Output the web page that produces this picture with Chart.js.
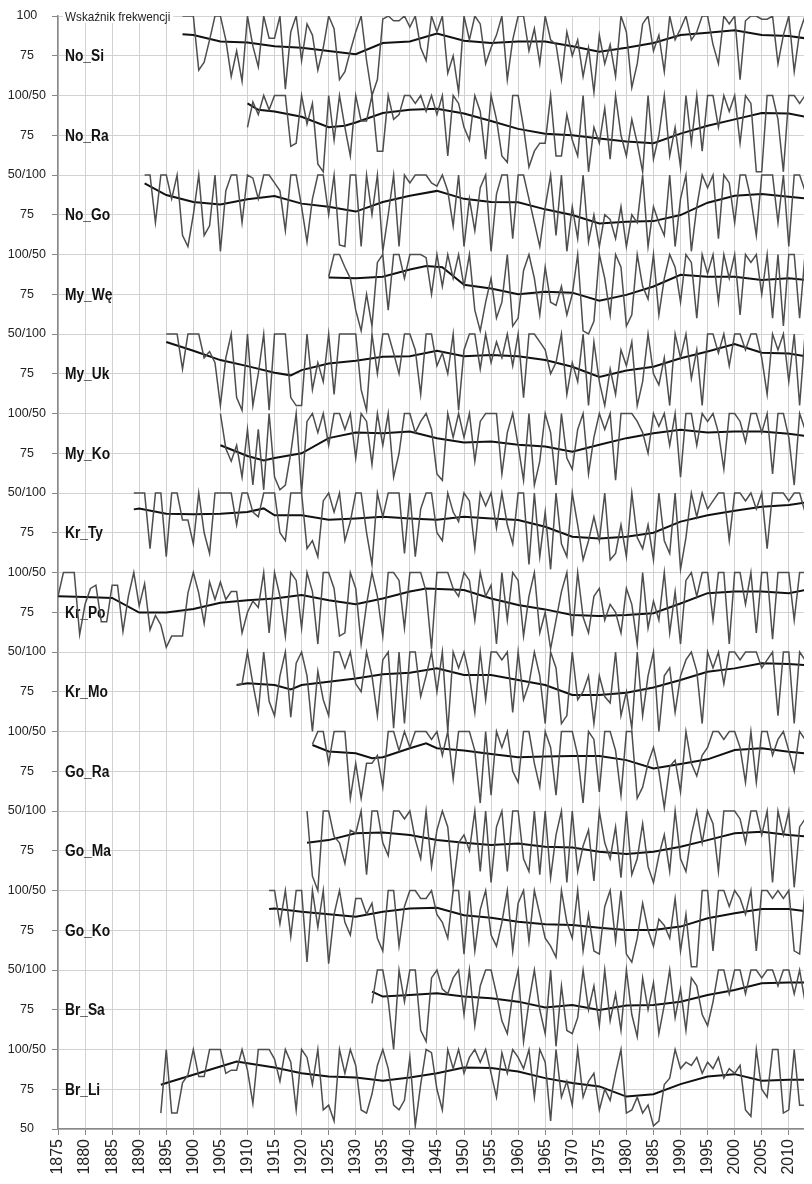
<!DOCTYPE html>
<html>
<head>
<meta charset="utf-8">
<script src="https://cdn.jsdelivr.net/npm/chart.js@4.4.0/dist/chart.umd.min.js"></script>
<style>
  html, body { margin: 0; padding: 0; background: #fff; overflow: hidden; }
</style>
</head>
<body>
<canvas id="chart" width="812" height="1184"></canvas>
<script>
// Panel names, top to bottom, and the first year of each series
const panelNames = ['No_Si', 'No_Ra', 'No_Go', 'My_Wę', 'My_Uk', 'My_Ko', 'Kr_Ty', 'Kr_Po', 'Kr_Mo', 'Go_Ra', 'Go_Ma', 'Go_Ko', 'Br_Sa', 'Br_Li'];
const startYears = [1898, 1910, 1891, 1925, 1895, 1905, 1889, 1875, 1908, 1922, 1921, 1914, 1933, 1894];
const titleText = 'Wskaźnik frekwencji';

// Yearly values (one per year from the start year)
const rawNoSi = [100,100,100,66,71,85,100,100,85,62,78,59,
  100,81,68,100,86,86,100,54,90,100,
  72,95,88,66,80,100,92,60,65,78,
  90,100,72,50,60,98,100,97,97,100,
  93,100,80,72,100,90,100,64,75,52,
  100,85,100,95,70,80,88,100,60,85,
  100,100,78,92,70,100,85,82,60,90,
  75,85,62,80,52,88,70,82,62,100,
  90,55,70,95,100,78,88,65,100,85,
  92,100,85,90,100,100,82,70,100,95,
  100,60,97,100,100,98,98,100,70,88,
  100,65,90,100,88];
const rawNoRa = [80,96,88,100,91,100,100,100,68,70,
  100,82,95,57,52,100,72,100,80,62,
  100,84,84,100,65,65,100,85,88,100,
  100,95,100,90,100,88,100,62,100,95,
  80,72,100,90,60,100,85,62,58,100,
  100,80,55,65,70,70,100,62,62,88,
  72,62,100,52,80,70,92,60,100,75,
  62,85,70,52,100,60,75,100,62,80,
  55,100,70,100,65,100,100,80,100,90,
  100,70,100,95,52,52,100,100,85,52,
  100,100,95,100,90];
const rawNoGo = [100,100,70,100,100,85,100,62,55,
  75,100,62,68,100,52,90,100,100,70,
  100,98,85,100,100,95,90,65,100,100,
  80,58,85,100,100,75,100,56,55,100,
  100,55,100,75,100,52,75,100,55,100,
  95,100,100,100,95,93,100,90,68,100,
  55,85,65,92,100,52,88,100,100,60,
  100,100,85,70,55,80,100,62,100,52,
  80,60,100,58,75,55,75,72,60,80,
  55,75,70,100,55,80,70,62,100,55,
  85,100,52,80,100,92,100,60,100,95,
  70,100,100,85,62,100,100,100,70,100,
  55,100,100,90,85];
const rawMyWe = [86,100,100,92,85,
  65,52,75,55,95,100,65,100,100,85,
  100,100,100,98,75,100,80,100,85,100,
  80,100,65,52,70,85,60,70,100,55,
  60,90,100,85,62,92,70,68,80,62,
  75,100,52,50,58,100,85,62,100,92,
  55,62,100,80,72,100,62,85,100,92,
  70,100,95,60,100,88,100,70,100,85,
  100,62,100,95,100,75,100,60,100,55,
  100,100,60,100,85];
const rawMyUk = [100,100,100,78,100,
  100,100,85,89,82,55,85,100,60,52,
  100,55,75,100,52,100,100,100,60,55,
  55,100,65,82,70,100,62,100,100,100,
  100,65,52,100,75,100,100,88,75,100,
  100,90,62,100,100,80,88,75,100,52,
  90,100,100,78,100,82,95,85,100,80,
  100,60,100,100,95,90,75,82,100,62,
  82,70,100,55,95,70,55,78,62,90,
  80,95,55,70,100,75,68,85,55,100,
  85,100,72,90,55,100,100,88,100,80,
  100,100,90,100,100,85,62,100,90,100,
  70,100,55,100,90];
const rawMyKo = [100,78,70,80,60,
  90,55,90,52,100,60,52,55,75,100,
  50,95,100,88,100,80,100,100,90,100,
  72,100,95,68,100,80,100,60,75,100,
  100,88,95,100,90,62,58,100,85,100,
  85,100,70,95,100,100,100,62,88,100,
  80,58,100,55,70,100,88,55,100,72,
  65,90,100,62,85,100,90,100,58,100,
  100,100,95,88,75,100,92,100,80,100,
  60,100,100,80,100,95,100,88,65,100,
  100,95,82,100,100,88,100,62,100,100,
  85,55,100,90,95];
const rawKrTy = [100,100,100,65,100,100,60,100,100,83,83,
  68,100,75,62,100,100,100,100,80,100,
  100,88,85,100,100,100,75,70,100,100,
  100,65,70,60,95,100,88,100,70,82,
  100,100,75,55,100,85,100,100,100,62,
  100,60,90,100,100,75,70,100,88,82,
  100,95,65,100,92,100,78,100,80,68,
  100,100,55,100,60,88,52,100,68,60,
  100,80,58,70,85,70,100,58,62,80,
  60,100,72,65,80,58,100,70,62,100,
  52,72,100,85,100,90,95,100,100,70,
  100,100,95,100,90,100,65,100,100,100,
  95,100,100,88,100];
const rawKrPo = [85,100,100,100,61,
  80,90,92,69,69,92,92,63,85,100,
  79,93,64,73,67,53,60,60,60,87,
  100,87,68,94,83,94,83,88,88,62,
  75,82,78,100,62,100,85,60,100,95,
  65,100,88,55,100,100,90,60,62,100,
  90,55,80,100,85,60,100,100,95,65,
  100,100,100,88,52,100,100,100,90,85,
  100,95,70,100,85,92,55,100,70,100,
  95,60,85,100,62,75,52,70,88,100,
  60,100,72,62,85,90,70,80,75,62,
  90,80,55,100,65,82,70,100,62,88,
  55,95,100,85,100,100,70,100,100,55,
  100,100,80,100,62,100,100,58,100,100,
  100,70,100,100,95];
const rawKrMo = [79,80,
  100,80,62,100,69,60,85,100,59,93,
  100,85,50,88,70,60,100,100,90,100,
  80,75,100,85,60,95,100,52,100,55,
  100,100,72,85,100,75,100,50,100,90,
  100,85,62,100,70,100,100,95,100,62,
  100,70,80,100,85,55,100,90,55,60,
  100,70,75,85,55,85,72,68,100,60,
  75,52,100,60,85,100,50,85,90,62,
  85,95,100,88,55,100,90,100,80,100,
  100,95,100,100,100,90,95,100,60,100,
  100,55,100,95,90];
const rawGoRa = [92,100,100,80,100,100,100,58,
  80,58,80,80,85,65,100,100,88,100,
  90,100,100,100,95,100,85,100,70,100,
  100,100,88,55,100,60,100,90,100,75,
  68,100,100,80,65,100,90,60,100,100,
  100,85,55,100,95,62,100,100,88,60,
  100,100,58,65,80,90,75,52,78,82,
  62,100,80,72,85,90,100,100,95,100,
  100,90,68,100,68,100,100,85,95,100,
  88,75,100,95,85];
const rawGoMa = [100,59,50,100,100,84,80,67,88,
  86,100,60,100,100,80,72,100,100,95,
  100,82,70,100,65,88,100,90,52,80,
  85,75,100,62,100,55,90,100,62,100,
  100,70,62,100,60,100,58,85,100,55,
  100,62,78,88,56,100,80,70,90,58,
  100,60,70,92,65,55,72,85,62,100,
  70,62,85,100,80,100,92,62,100,100,
  100,95,80,100,100,85,100,55,100,85,
  100,52,90,95,85];
const rawGoKo = [100,100,79,100,71,100,
  100,55,100,77,100,54,85,100,80,72,
  95,95,85,92,70,62,100,100,65,90,
  100,100,95,95,100,85,80,70,100,100,
  60,100,62,88,100,72,65,80,100,62,
  92,100,68,100,85,70,65,58,100,80,
  70,100,62,85,62,60,90,100,68,100,
  60,55,70,92,75,65,82,78,70,95,
  62,85,52,52,100,100,62,100,100,90,
  100,95,85,100,62,100,100,95,100,95,
  100,62,60,100,90];
const rawBrSa = [79,100,100,81,50,100,80,
  100,100,62,55,95,100,88,85,95,100,
  72,100,65,90,100,100,85,68,60,85,
  100,55,80,100,75,60,100,52,90,62,
  60,70,100,75,90,65,100,68,85,62,
  100,72,58,95,75,92,60,78,100,70,
  88,62,95,90,72,65,80,100,100,85,
  100,100,85,100,100,95,100,100,90,100,
  100,85,100,80,100];
const rawBrLi = [60,100,60,60,79,84,
  100,83,83,100,100,100,85,87,87,100,
  87,66,100,100,100,94,80,100,92,62,
  100,95,78,100,62,65,55,100,85,100,
  90,62,60,72,90,100,88,65,62,68,
  95,52,78,100,98,75,62,100,88,100,
  85,95,100,92,100,85,70,98,85,100,
  95,88,100,70,100,92,55,100,70,80,
  65,100,70,80,85,62,75,68,85,100,
  60,62,70,60,65,52,55,78,82,100,
  88,92,90,95,85,92,88,95,82,88,
  85,90,62,58,100,75,70,100,100,60,
  62,100,65,65,80];

// Smoothed trend, [year, value]
const smNoSi = [[1898,88.5],[1900,88],[1905,84],[1910,83.4],[1915,81],[1920,80],[1925,78],[1930,76],[1935,83],[1940,84],[1945,89],[1950,84.5],[1955,83],[1960,84],[1965,84],[1970,81],[1975,77.5],[1980,80],[1985,83],[1990,88],[1995,89.5],[2000,91],[2005,88],[2010,87.4],[2013,86]];
const smNoRa = [[1910,95],[1912,91],[1915,90],[1920,86.6],[1925,80],[1928,81],[1930,83],[1935,89],[1940,91],[1945,91.6],[1950,88.7],[1955,84],[1960,79],[1965,76],[1970,75],[1975,73],[1980,71],[1985,70],[1990,76],[1995,81],[2000,85],[2005,89],[2010,88.7],[2013,86.6]];
const smNoGo = [[1891,94.7],[1895,87.4],[1900,83],[1905,81.5],[1910,84.7],[1915,86.8],[1920,82],[1925,80],[1930,77],[1935,83],[1940,87],[1945,90],[1950,85],[1955,83],[1960,82.8],[1965,78.4],[1970,74.8],[1975,69.5],[1980,70.6],[1985,71],[1990,74.8],[1995,82.6],[2000,87],[2005,88],[2010,86.3],[2013,85.3]];
const smMyWe = [[1925,85.5],[1930,85],[1935,86],[1940,90.6],[1943,92.7],[1946,92],[1950,81],[1955,78.6],[1960,75],[1965,76.5],[1970,76],[1975,71],[1980,74.6],[1985,79.9],[1990,87.2],[1995,86],[2000,86],[2005,84],[2010,85],[2013,84]];
const smMyUk = [[1895,95],[1900,89.5],[1905,83.6],[1910,79.8],[1915,75.6],[1918,74],[1920,77.3],[1925,81.5],[1930,83.2],[1935,85.7],[1940,86],[1945,89.5],[1950,86],[1955,86.8],[1960,86],[1965,83.6],[1970,79.4],[1975,73],[1980,77],[1985,79.4],[1990,84.7],[1995,89],[2000,93.7],[2005,88.2],[2010,87.8],[2013,86]];
const smMyKo = [[1905,80],[1910,73.3],[1913,70.4],[1915,72],[1920,75],[1925,84.5],[1930,88],[1935,87.6],[1940,88.7],[1945,84.5],[1950,81.8],[1955,82.4],[1960,80.3],[1965,79.2],[1970,76],[1975,80.3],[1980,84.5],[1985,87.6],[1990,89.7],[1995,88],[2000,88.7],[2005,88.7],[2010,87.2],[2013,86]];
const smKrTy = [[1889,89.7],[1890,90.3],[1895,87],[1900,86.7],[1905,87],[1910,88],[1913,90.3],[1915,86],[1920,86],[1925,83.2],[1930,84],[1935,85],[1940,84],[1945,83.2],[1950,85],[1955,84],[1960,83],[1965,78.8],[1970,72.5],[1975,71.4],[1980,72.5],[1985,75],[1990,82],[1995,86],[2000,88.8],[2005,91.3],[2010,92.4],[2013,94]];
const smKrPo = [[1875,85],[1880,84.6],[1885,84],[1890,74.8],[1895,74.8],[1900,77],[1905,81],[1910,82.6],[1915,83.7],[1920,85.8],[1925,82.6],[1930,80],[1935,83.7],[1940,88],[1943,90],[1950,89],[1955,83.7],[1960,79.5],[1965,76.8],[1970,73.3],[1975,72.7],[1980,73.3],[1985,74.4],[1990,80.5],[1995,87],[2000,88],[2005,88],[2010,87],[2013,89]];
const smKrMo = [[1908,79.2],[1910,80.3],[1915,79.2],[1918,76.5],[1920,79.2],[1925,81.3],[1930,83.4],[1935,86],[1940,87],[1945,89.7],[1950,85.5],[1955,85.5],[1960,82.4],[1965,79.2],[1970,73],[1975,73],[1980,74.4],[1985,77.7],[1990,82.4],[1995,87.6],[2000,89.7],[2005,92.9],[2010,92.4],[2013,91.8]];
const smGoRa = [[1922,91.5],[1925,87.4],[1930,86.3],[1933,83.2],[1935,83.8],[1940,89.5],[1943,92.6],[1945,89.5],[1950,88],[1955,85.8],[1960,83.8],[1965,84.2],[1970,84.6],[1975,84.6],[1980,82],[1985,76.8],[1990,79.6],[1995,82.5],[2000,88.3],[2005,89.4],[2010,87.3],[2013,86.3]];
const smGoMa = [[1921,80],[1925,81.7],[1930,86],[1935,86.4],[1940,84.9],[1945,81.7],[1950,80],[1955,78.6],[1960,79.6],[1965,77.5],[1970,77],[1975,74.4],[1980,72.9],[1985,74.4],[1990,77.5],[1995,81.7],[2000,86],[2005,87],[2010,84.9],[2013,84]];
const smGoKo = [[1914,88.3],[1915,88.7],[1920,86.6],[1925,85],[1930,83.5],[1935,86.6],[1940,88.7],[1945,89.2],[1950,84.5],[1955,82.9],[1960,80.4],[1965,78.7],[1970,78.3],[1975,76.6],[1980,75.2],[1985,75.2],[1990,77.3],[1995,82.5],[2000,85.7],[2005,88.3],[2010,88.3],[2013,87]];
const smBrSa = [[1933,86.4],[1935,83.3],[1940,84.3],[1945,85.4],[1950,83.3],[1955,82.2],[1960,80.1],[1965,76.4],[1970,78],[1975,74.9],[1980,77.6],[1985,78],[1990,80.1],[1995,84.3],[2000,87.4],[2005,91.6],[2010,92.2],[2013,92.2]];
const smBrLi = [[1894,77.8],[1895,78.9],[1900,84.1],[1905,89.3],[1908,92.5],[1910,91.4],[1915,88.7],[1920,85.1],[1925,83],[1930,82.4],[1935,80.3],[1940,82.4],[1945,85.1],[1950,88.7],[1955,88.3],[1960,86.2],[1965,82],[1970,78.9],[1975,76.8],[1980,70.4],[1985,71.9],[1990,78.2],[1995,83],[2000,84.5],[2005,80.3],[2010,81],[2013,81]];

const rawSeries = [rawNoSi, rawNoRa, rawNoGo, rawMyWe, rawMyUk, rawMyKo, rawKrTy, rawKrPo, rawKrMo, rawGoRa, rawGoMa, rawGoKo, rawBrSa, rawBrLi];
const smoothSeries = [smNoSi, smNoRa, smNoGo, smMyWe, smMyUk, smMyKo, smKrTy, smKrPo, smKrMo, smGoRa, smGoMa, smGoKo, smBrSa, smBrLi];

// each panel spans 50 units (50..100) on one stacked y axis
const nPanels = panelNames.length;
function panelY(i, v) {
    return (nPanels - 1 - i) * 50 + (v - 50);
}

const datasets = [];
panelNames.forEach((name, i) => {
    datasets.push({
        label: name,
        data: rawSeries[i].map((v, k) => ({ x: startYears[i] + k, y: panelY(i, v) })),
        borderColor: '#4e4e4e',
        borderWidth: 1.5,
        pointRadius: 0
    });
});
panelNames.forEach((name, i) => {
    datasets.push({
        label: name + ' trend',
        data: smoothSeries[i].map(p => ({ x: p[0], y: panelY(i, p[1]) })),
        borderColor: '#111',
        borderWidth: 2,
        pointRadius: 0
    });
});

function yTickLabel(v) {
    if (v === nPanels * 50) return '100';
    if (v === 0) return '50';
    if (v % 50 === 25) return '75';
    return (v / 50) % 2 === 1 ? '100/50' : '50/100';
}

const sans = '"Liberation Sans", Arial, sans-serif';

// Draw panel names and the title onto the plot (squeezed a bit, like a narrow face)
const panelLabels = {
    id: 'panelLabels',
    beforeDatasetsDraw(chart) {
        const { ctx, chartArea, scales } = chart;
        const x0 = chartArea.left + 7;
        ctx.save();
        const yTop = scales.y.getPixelForValue(nPanels * 50);
        ctx.font = '13px ' + sans;
        const tw = ctx.measureText(titleText).width * 0.9;
        ctx.fillStyle = '#fff';
        ctx.fillRect(chartArea.left + 5, yTop - 7, tw + 5, 14);
        ctx.fillStyle = '#222';
        ctx.textBaseline = 'alphabetic';
        ctx.save();
        ctx.translate(x0, yTop + 4.5);
        ctx.scale(0.9, 1);
        ctx.fillText(titleText, 0, 0);
        ctx.restore();

        ctx.font = 'bold 16px ' + sans;
        ctx.fillStyle = '#111';
        panelNames.forEach((name, i) => {
            const y = scales.y.getPixelForValue(panelY(i, 75));
            ctx.save();
            ctx.translate(x0, y + 5.5);
            ctx.scale(0.86, 1);
            ctx.fillText(name, 0, 0);
            ctx.restore();
        });
        ctx.restore();
    }
};

new Chart(document.getElementById('chart').getContext('2d'), {
    type: 'line',
    data: { datasets: datasets },
    plugins: [panelLabels],
    options: {
        responsive: false,
        animation: false,
        layout: { padding: { top: 16, right: 0, left: 0, bottom: 0 } },
        plugins: { legend: { display: false }, tooltip: { enabled: false } },
        elements: { line: { tension: 0 } },
        scales: {
            x: {
                type: 'linear',
                min: 1875,
                max: 2012.8,
                ticks: {
                    stepSize: 5,
                    includeBounds: false,
                    autoSkip: false,
                    minRotation: 90,
                    maxRotation: 90,
                    padding: 4,
                    color: '#222',
                    font: { family: sans, size: 16 },
                    callback: v => String(v)
                },
                grid: { color: '#d2d2d2', lineWidth: 1, tickLength: 6, tickColor: '#888' },
                border: { color: '#888', width: 1.5 },
                afterFit: s => { s.height = 55; }
            },
            y: {
                min: 0,
                max: nPanels * 50,
                ticks: {
                    stepSize: 25,
                    autoSkip: false,
                    crossAlign: 'center',
                    padding: 6,
                    color: '#222',
                    font: { family: sans, size: 12.5 },
                    callback: yTickLabel
                },
                grid: { color: '#d2d2d2', lineWidth: 1, tickLength: 6, tickColor: '#888' },
                border: { color: '#888', width: 1.5 },
                afterFit: s => { s.width = 58; }
            }
        }
    }
});
</script>
</body>
</html>
